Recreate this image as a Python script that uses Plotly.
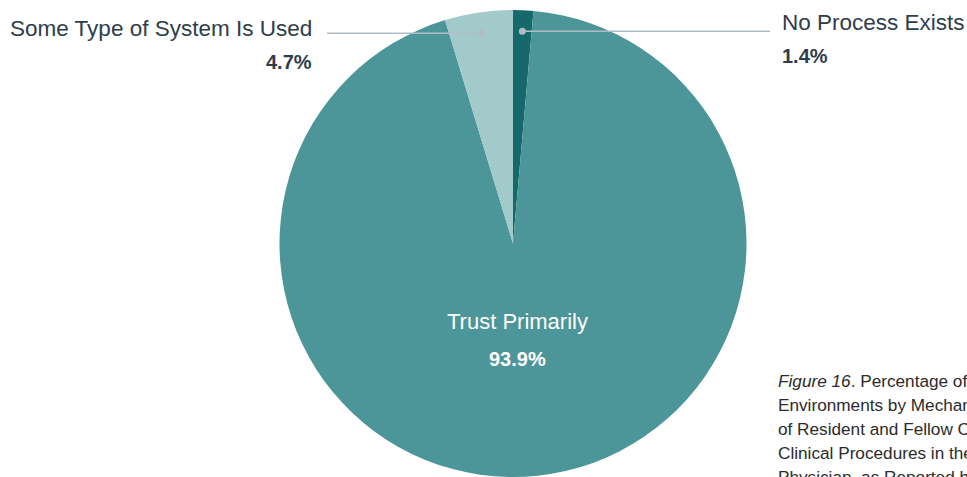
import math
import plotly.graph_objects as go

# Survey shares (percent), listed clockwise from 12 o'clock
labels = ["No Process Exists", "Trust Primarily", "Some Type of System Is Used"]
values = [1.4, 93.9, 4.7]
colors = ["#15696a", "#4c9598", "#a2cacb"]

caption_lines = [
    "<i>Figure 16</i>. Percentage of Clinical Learning",
    "Environments by Mechanism for Verification",
    "of Resident and Fellow Competence to Perform",
    "Clinical Procedures in the Absence of a Supervising",
    "Physician, as Reported by Interviewees",
]

W, H = 967, 477
FONT = "Liberation Sans"
LABEL_COLOR = "#2e3d4b"
LEADER_COLOR = "#aebcc7"

# pie placement (pixels)
dom_x = (279, 747)
dom_y_top = 10
cx = (dom_x[0] + dom_x[1]) / 2
R = min(dom_x[1] - dom_x[0], H - dom_y_top) / 2
cy = dom_y_top + R


def px(x):
    return x / W


def py(y):
    return 1 - y / H


fig = go.Figure(
    go.Pie(
        labels=labels,
        values=values,
        sort=False,
        direction="clockwise",
        rotation=0,
        marker=dict(colors=colors, line=dict(width=0)),
        textinfo="none",
        hoverinfo="label+percent",
        showlegend=False,
        domain=dict(x=[px(dom_x[0]), px(dom_x[1])], y=[0, py(dom_y_top)]),
    )
)

# mid-angle of each slice (degrees clockwise from top)
total = sum(values)
mids = []
acc = 0
for v in values:
    mids.append((acc + v / 2) / total * 360)
    acc += v

shapes = []
annotations = []


def anchor_point(i, frac=0.91):
    a = math.radians(mids[i])
    return cx + frac * R * math.sin(a), cy - frac * R * math.cos(a)


def leader(x0, y0, x1):
    shapes.append(dict(type="line", xref="paper", yref="paper",
                       x0=px(x0), y0=py(y0), x1=px(x1), y1=py(y0),
                       line=dict(color=LEADER_COLOR, width=1.5)))
    r = 3.5
    shapes.append(dict(type="circle", xref="paper", yref="paper",
                       x0=px(x0 - r), x1=px(x0 + r), y0=py(y0 + r), y1=py(y0 - r),
                       fillcolor=LEADER_COLOR, line=dict(width=0)))


def text(x, y, s, size, anchor, color=LABEL_COLOR, bold=False):
    annotations.append(dict(
        x=px(x), y=py(y), xref="paper", yref="paper",
        text=f"<b>{s}</b>" if bold else s, showarrow=False,
        xanchor=anchor, yanchor="middle",
        font=dict(family=FONT, size=size, color=color),
    ))


# No Process Exists (right side)
ax, ay = anchor_point(0)
leader(ax, ay, 770)
text(780, 23, labels[0], 22.5, "left")
text(780, 56, f"{values[0]}%", 20, "left", bold=True)

# Some Type of System Is Used (left side)
ax, ay = anchor_point(2)
leader(ax, ay, 327)
text(314, 28, labels[2], 22.5, "right")
text(314, 62, f"{values[2]}%", 20, "right", bold=True)

# Trust Primarily (inside the large slice)
text(517, 321, labels[1], 22, "center", color="#ffffff")
text(517, 359, f"{values[1]}%", 20, "center", color="#ffffff", bold=True)

# caption block, running past the right edge of the page
for k, line in enumerate(caption_lines):
    annotations.append(dict(
        x=px(776), y=py(381 + 24 * k), xref="paper", yref="paper",
        text=line, showarrow=False, xanchor="left", yanchor="middle",
        font=dict(family=FONT, size=17.2, color="#2b2b2b"),
    ))

fig.update_layout(
    width=W, height=H,
    margin=dict(l=0, r=0, t=0, b=0),
    paper_bgcolor="#ffffff",
    plot_bgcolor="#ffffff",
    shapes=shapes,
    annotations=annotations,
)

fig.write_html("out.html", config=dict(displayModeBar=False))
